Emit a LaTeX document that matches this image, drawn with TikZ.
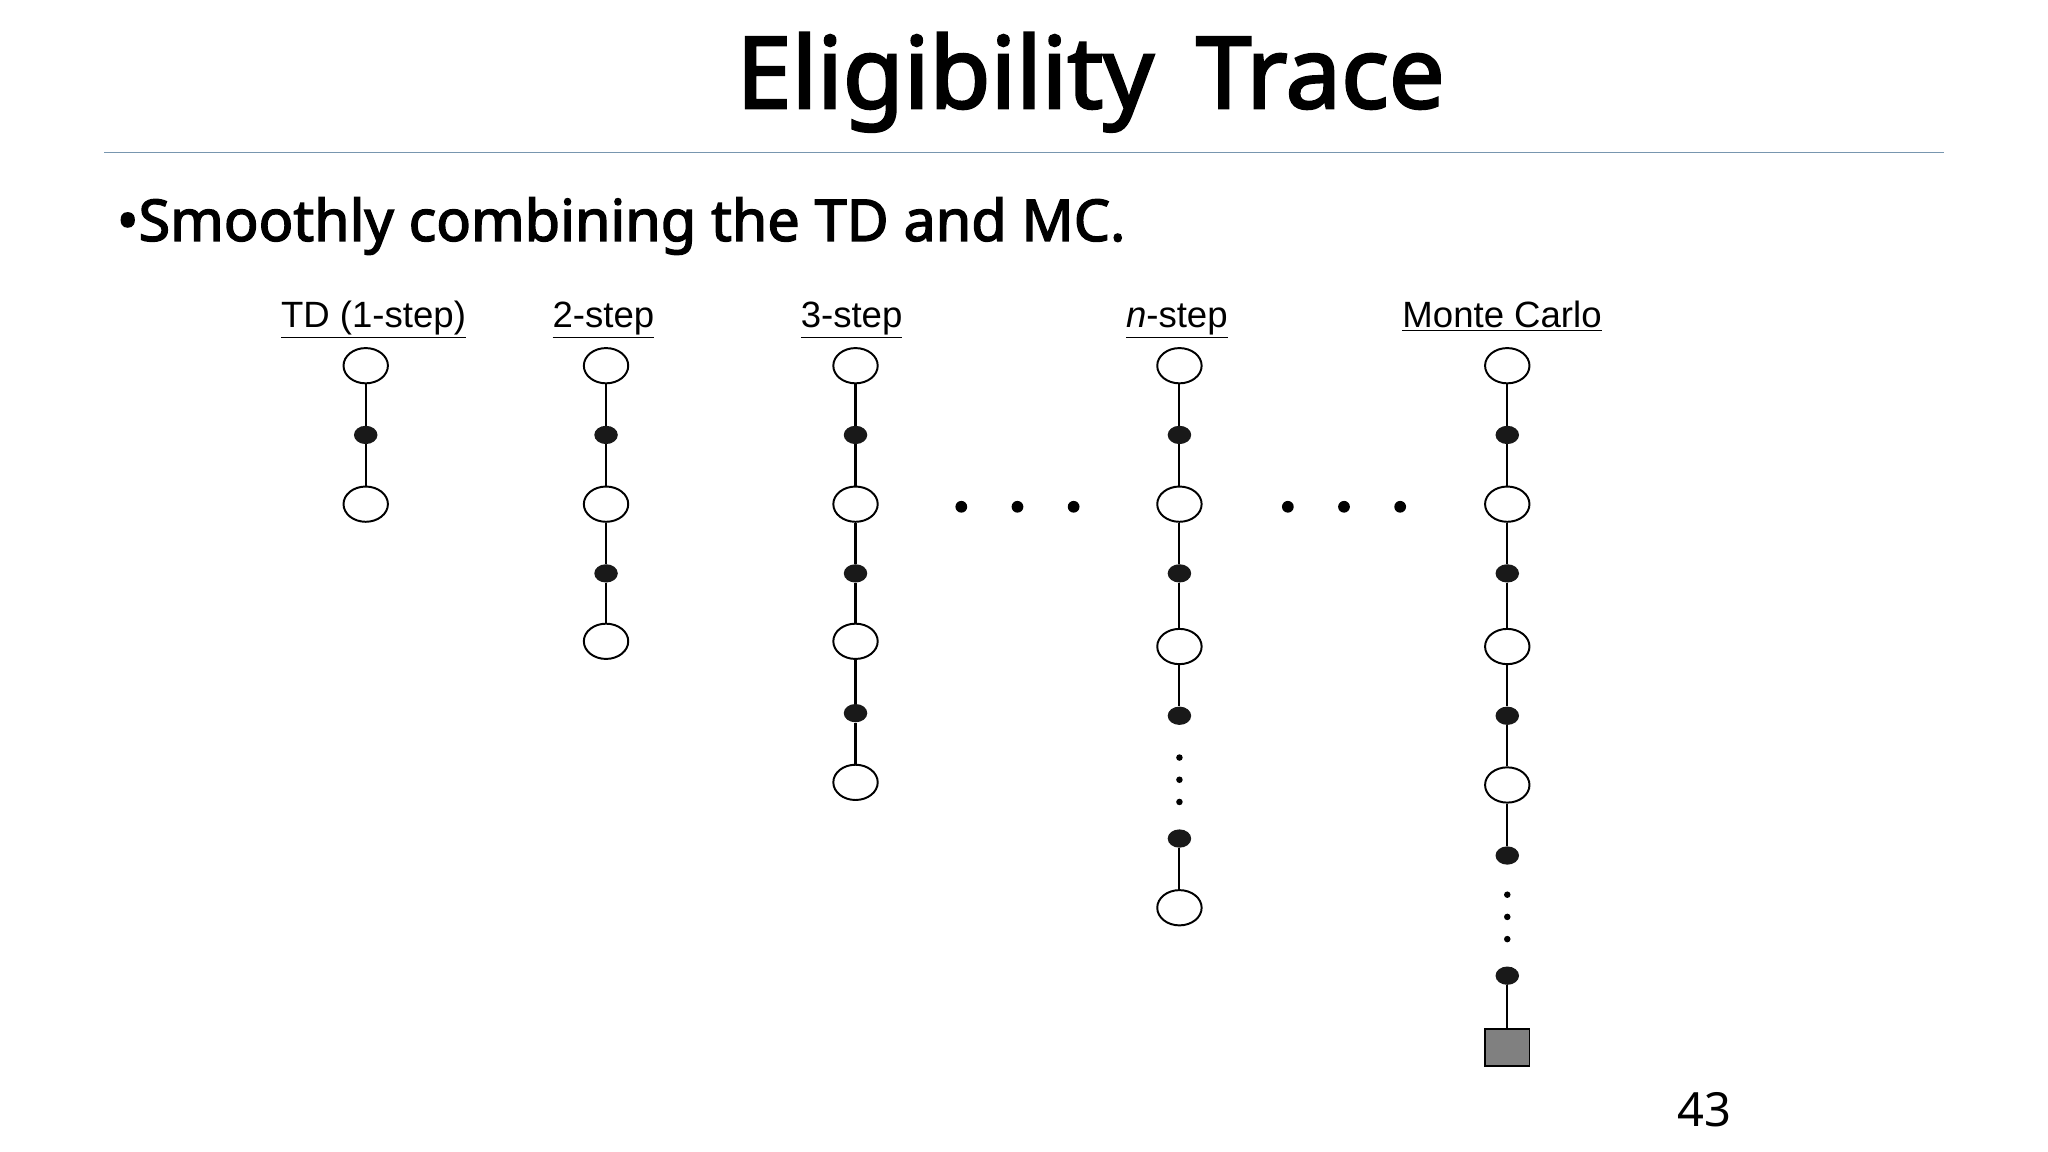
\documentclass[tikz,border=0pt]{standalone}
\usepackage{fontspec}
\usetikzlibrary{shapes.geometric}
\setmainfont{Noto Sans}
\newfontfamily\ttl[FakeBold=2.5]{Noto Sans}
\newfontfamily\arialf{Liberation Sans}
\begin{document}
\begin{tikzpicture}[x=1pt,y=-1pt,
  st/.style={draw=black,line width=1.5pt,fill=white,ellipse,minimum width=34pt,minimum height=27pt,inner sep=0pt},
  act/.style={fill=black!90,ellipse,minimum width=18pt,minimum height=14pt,inner sep=0pt},
  dt/.style={fill=black,circle,minimum size=5pt,inner sep=0pt},
  hd/.style={fill=black,circle,minimum size=9pt,inner sep=0pt},
  ln/.style={line width=1.6pt},
  lab/.style={font=\arialf\fontsize{28}{32}\selectfont,inner sep=1pt,anchor=base}]
\useasboundingbox[fill=white] (0,0) rectangle (1568,882);
\node[font=\ttl\fontsize{76}{80}\selectfont] (title) at (835,63) {Eligibility\, Trace};
\draw[color={rgb,255:red,120;green,150;blue,175},line width=1pt] (80,117) -- (1488,117);
\node[anchor=west,font=\ttl\fontsize{44}{48}\selectfont] (bul) at (86,173) {\textbullet Smoothly combining the TD and MC.};
\foreach \n/\x/\t in {a/286/TD (1-step),b/462/2-step,c/652/3-step,e/1150/Monte Carlo}{
  \node[lab] (l\n) at (\x,251) {\underline{\t}};}
\node[lab] (ld) at (901,251) {\underline{\textit{n}-step}};
\newcommand\colnodes[3]{\foreach \y [count=\i] in {#3}{%
  \ifodd\i \node[st] (#1\i) at (#2,\y) {};\else \node[act] (#1\i) at (#2,\y) {};\fi}}
\colnodes{a}{280}{280,333,386}
\colnodes{b}{464}{280,333,386,439,491}
\colnodes{c}{655}{280,333,386,439,491,546,599}
\colnodes{d}{903}{280,333,386,439,495,548}
\colnodes{e}{1154}{280,333,386,439,495,548,601,655}
\foreach \c/\m in {a/3,b/5,c/7,d/6,e/8}{
  \foreach \i [evaluate=\i as \j using int(\i+1)] in {1,...,\m}{
    \ifnum\i<\m \draw[ln] (\c\i) -- (\c\j); \fi}}
\node[dt] (dv1) at (903,580) {};
\node[dt] (dv2) at (903,597) {};
\node[dt] (dv3) at (903,614) {};
\node[act] (d7) at (903,642) {};
\node[st] (d8) at (903,695) {};
\draw[ln] (d7) -- (d8);
\node[dt] (ev1) at (1154,685) {};
\node[dt] (ev2) at (1154,702) {};
\node[dt] (ev3) at (1154,719) {};
\node[act] (e9) at (1154,747) {};
\node[draw=black,line width=1.5pt,fill=black!50,minimum width=34pt,minimum height=28pt,inner sep=0pt] (term) at (1154,802) {};
\draw[ln] (e9) -- (term);
\foreach \x [count=\i] in {736,779,822}{\node[hd] (h\i) at (\x,388) {};}
\foreach \x [count=\i] in {986,1029,1072}{\node[hd] (k\i) at (\x,388) {};}
\node[font=\fontsize{36}{40}\selectfont] (pg) at (1305,850) {43};
\end{tikzpicture}
\end{document}
